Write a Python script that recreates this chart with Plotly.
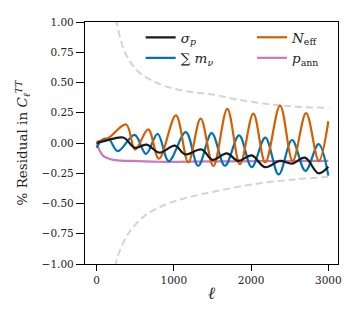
import plotly.graph_objects as go

# sigma_p (black)
sp_l = [0, 120, 345, 496, 648, 811, 1014, 1144, 1360, 1503, 1684, 1834, 2008, 2180, 2374, 2530, 2698, 2871, 3000]
sp_v = [0.0, 0.02, 0.045, -0.04, -0.013, -0.08, -0.022, -0.094, -0.054, -0.14, -0.086, -0.148, -0.102, -0.2, -0.148, -0.17, -0.121, -0.25, -0.196]

# sum m_nu (blue)
mn_l = [0, 80, 160, 276, 492, 640, 790, 935, 1155, 1316, 1490, 1662, 1845, 2008, 2184, 2357, 2530, 2703, 2874, 3000]
mn_v = [-0.04, 0.03, 0.03, -0.067, 0.067, -0.09, 0.075, -0.15, 0.09, -0.188, 0.081, -0.188, 0.063, -0.2, 0.045, -0.26, 0.025, -0.23, -0.01, -0.27]

# N_eff (orange)
ne_l = [0, 150, 382, 498, 668, 807, 1027, 1187, 1347, 1511, 1692, 1856, 2029, 2184, 2375, 2539, 2712, 2876, 3000]
ne_v = [0.01, 0.04, 0.153, -0.054, 0.113, -0.13, 0.228, -0.16, 0.202, -0.19, 0.282, -0.175, 0.242, -0.16, 0.309, -0.148, 0.247, -0.148, 0.18]

# p_ann (pink)
pa_l = [2, 30, 85, 215, 431, 800, 1500, 2200, 3000]
pa_v = [0.0, -0.05, -0.107, -0.14, -0.148, -0.155, -0.152, -0.15, -0.148]

# cosmic-variance envelope (grey dashed)
up_l = [248, 260, 367, 539, 842, 1144, 1507, 1813, 2246, 2600, 3000]
up_v = [1.02, 0.99, 0.75, 0.59, 0.48, 0.43, 0.40, 0.36, 0.32, 0.30, 0.29]
lo_l = [252, 259, 410, 626, 885, 1144, 1511, 2073, 2590, 3000]
lo_v = [-1.02, -0.968, -0.75, -0.6, -0.51, -0.457, -0.403, -0.336, -0.30, -0.28]

y_ticks = [-1.0, -0.75, -0.5, -0.25, 0.0, 0.25, 0.5, 0.75, 1.0]
x_ticks = [0, 1000, 2000, 3000]

FONT = "DejaVu Serif"
fig = go.Figure()

grey = dict(color="#d4d4d4", width=2, dash="7px,4px")
fig.add_trace(go.Scatter(x=up_l, y=up_v, mode="lines", line=dict(shape="spline", **grey), showlegend=False, hoverinfo="skip"))
fig.add_trace(go.Scatter(x=lo_l, y=lo_v, mode="lines", line=dict(shape="spline", **grey), showlegend=False, hoverinfo="skip"))

fig.add_trace(go.Scatter(x=pa_l, y=pa_v, mode="lines", name="<i>p</i><sub>ann</sub>",
                         line=dict(color="#cc78bc", width=2.2, shape="spline"), legend="legend2", legendrank=2))
fig.add_trace(go.Scatter(x=mn_l, y=mn_v, mode="lines", name="∑ <i>m</i><sub><i>ν</i></sub>",
                         line=dict(color="#0173b2", width=2.2, shape="spline"), legend="legend", legendrank=2))
fig.add_trace(go.Scatter(x=ne_l, y=ne_v, mode="lines", name="<i>N</i><sub>eff</sub>",
                         line=dict(color="#d55e00", width=2.2, shape="spline"), legend="legend2", legendrank=1))
fig.add_trace(go.Scatter(x=sp_l, y=sp_v, mode="lines", name="<i>σ</i><sub><i>p</i></sub>",
                         line=dict(color="#1a1a1a", width=2.2, shape="spline"), legend="legend", legendrank=1))

axis_common = dict(showgrid=False, zeroline=False, showline=True, linecolor="black", linewidth=1.2,
                   mirror=True, ticks="outside", tickwidth=1, tickcolor="black",
                   tickfont=dict(family=FONT, size=10.5, color="#222"))

# the page body adds an 8px offset; compensate so the plot area lands at x 85-338, y 16-264
fig.update_layout(
    width=345, height=311,
    margin=dict(l=77, r=15, t=8, b=55),
    plot_bgcolor="white", paper_bgcolor="white",
    font=dict(family=FONT, color="#222"),
    xaxis=dict(range=[-150, 3125], tickvals=x_ticks, ticktext=[str(v) for v in x_ticks], ticklen=6,
               title=dict(text="<i>ℓ</i>", font=dict(family=FONT, size=17), standoff=2), **axis_common),
    yaxis=dict(range=[-1, 1], tickvals=y_ticks, tickformat=".2f", ticklen=8,
               title=dict(text="% Residual in <i>C</i><sub><i>ℓ</i></sub><sup><i>TT</i></sup>",
                          font=dict(family=FONT, size=13.5), standoff=10), **axis_common),
    legend=dict(x=0.22, y=1.0, xanchor="left", yanchor="top", bgcolor="rgba(0,0,0,0)",
                font=dict(family=FONT, size=13.5), tracegroupgap=0, itemwidth=30),
    legend2=dict(x=0.66, y=1.0, xanchor="left", yanchor="top", bgcolor="rgba(0,0,0,0)",
                 font=dict(family=FONT, size=13.5), tracegroupgap=0, itemwidth=30),
)

fig.write_html("out.html")
